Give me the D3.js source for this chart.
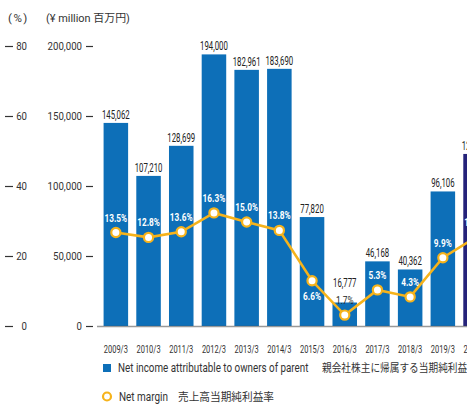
<!DOCTYPE html>
<html>
<head>
<meta charset="utf-8">
<script src="https://cdn.jsdelivr.net/npm/d3@7"></script>
<style>
  body { margin: 0; background: #fff; }
  svg { display: block; }
  text { font-family: Roboto, "Noto Sans CJK JP", sans-serif; fill: #333; }
</style>
</head>
<body>
<svg id="chart"></svg>
<script>
// data
const years = ["2009/3", "2010/3", "2011/3", "2012/3", "2013/3", "2014/3", "2015/3", "2016/3", "2017/3", "2018/3", "2019/3", "2020/3"];
const netIncome = [145062, 107210, 128699, 194000, 182961, 183690, 77820, 16777, 46168, 40362, 96106, 122900];
const netMargin = [13.5, 12.8, 13.6, 16.3, 15.0, 13.8, 6.6, 1.7, 5.3, 4.3, 9.9, 12.8];
const yenTicks = [0, 50000, 100000, 150000, 200000];
const pctTicks = [0, 20, 40, 60, 80];

const width = 467;
const height = 406;

const blue = "#0d6fb8";
const navy = "#25237a";
const gold = "#f6b31b";

// the original uses a condensed face, so squash the text horizontally
function squeeze(sel, sx) {
    sel.each(function () {
        const t = d3.select(this);
        const tx = +t.attr("x") || 0;
        const ty = +t.attr("y") || 0;
        t.attr("x", 0).attr("y", 0)
            .attr("transform", "translate(" + tx + "," + ty + ") scale(" + sx + ",1)");
    });
}

const svg = d3.select("#chart")
    .attr("width", width)
    .attr("height", height);

// scales
const x = d3.scaleBand()
    .domain(years)
    .range([99.5, 99.5 + 32.7 * years.length])
    .paddingInner(0.25)
    .paddingOuter(0.125);

const y = d3.scaleLinear()
    .domain([0, 200000])
    .range([326, 46]);

// percent axis labels go to 80, the markers are drawn at twice that scale
const yPctAxis = d3.scaleLinear().domain([0, 80]).range([326, 46]);
const yPct = d3.scaleLinear().domain([0, 40]).range([327, 47]);

// unit headers
svg.append("text").attr("x", 8).attr("y", 22)
    .style("font-size", "11.5px").style("letter-spacing", "1.5px").text("(%)");
svg.append("text").attr("x", 46).attr("y", 22)
    .style("font-size", "11.5px").text("(¥ million 百万円)")
    .call(squeeze, 0.95);

// left axes
const pctAxis = svg.append("g")
    .attr("transform", "translate(5,0)")
    .call(d3.axisRight(yPctAxis).tickValues(pctTicks).tickSize(8).tickPadding(3));
pctAxis.select(".domain").remove();
pctAxis.selectAll("line").attr("stroke", "#333").attr("stroke-width", 1.2);
pctAxis.selectAll("text")
    .attr("text-anchor", "end")
    .attr("x", 22)
    .attr("fill", null)
    .style("font-size", "10.5px")
    .style("font-family", null)
    .call(squeeze, 0.92);

const yenAxis = svg.append("g")
    .attr("transform", "translate(93,0)")
    .call(d3.axisLeft(y).tickValues(yenTicks).tickSize(7).tickPadding(4).tickFormat(d3.format(",")));
yenAxis.select(".domain").remove();
yenAxis.selectAll("line").attr("stroke", "#333").attr("stroke-width", 1.2);
yenAxis.selectAll("text")
    .attr("fill", null)
    .style("font-size", "10.5px")
    .style("font-family", null)
    .call(squeeze, 0.92);

// bars
svg.append("g")
    .selectAll("rect")
    .data(netIncome)
    .join("rect")
    .attr("x", (d, i) => x(years[i]))
    .attr("width", x.bandwidth())
    .attr("y", d => y(d))
    .attr("height", d => y(0) - y(d))
    .attr("fill", (d, i) => i === years.length - 1 ? navy : blue);

// baseline
svg.append("line")
    .attr("x1", 97).attr("x2", width)
    .attr("y1", y(0) + 0.5).attr("y2", y(0) + 0.5)
    .attr("stroke", "#555")
    .attr("stroke-opacity", 0.6)
    .attr("stroke-width", 1.6);

// bar value labels (2016/3 sits higher to leave room for its margin label)
svg.append("g")
    .selectAll("text")
    .data(netIncome)
    .join("text")
    .attr("x", (d, i) => x(years[i]) + x.bandwidth() / 2)
    .attr("y", (d, i) => years[i] === "2016/3" ? y(d) - 16 : y(d) - 4)
    .attr("text-anchor", "middle")
    .style("font-size", "12px")
    .style("fill", "#222")
    .text(d => d3.format(",")(d))
    .call(squeeze, 0.65);

// net margin line
const line = d3.line()
    .x((d, i) => x(years[i]) + x.bandwidth() / 2)
    .y(d => yPct(d));

svg.append("path")
    .datum(netMargin)
    .attr("d", line)
    .attr("fill", "none")
    .attr("stroke", gold)
    .attr("stroke-width", 2.6);

svg.append("g")
    .selectAll("circle")
    .data(netMargin)
    .join("circle")
    .attr("cx", (d, i) => x(years[i]) + x.bandwidth() / 2)
    .attr("cy", d => yPct(d))
    .attr("r", 4.6)
    .attr("fill", "#fff")
    .attr("stroke", gold)
    .attr("stroke-width", 2.2);

// margin labels
svg.append("g")
    .selectAll("text")
    .data(netMargin)
    .join("text")
    .attr("x", (d, i) => x(years[i]) + x.bandwidth() / 2)
    .attr("y", (d, i) => years[i] === "2015/3" ? yPct(d) + 19 : yPct(d) - 11)
    .attr("text-anchor", "middle")
    .style("font-size", "11.5px")
    .style("fill", (d, i) => years[i] === "2016/3" ? "#222" : "#fff")
    .style("font-weight", (d, i) => years[i] === "2016/3" ? "normal" : "bold")
    .text(d => d.toFixed(1) + "%")
    .call(squeeze, 0.72);

// category labels
svg.append("g")
    .selectAll("text")
    .data(years)
    .join("text")
    .attr("x", d => x(d) + x.bandwidth() / 2)
    .attr("y", 353)
    .attr("text-anchor", "middle")
    .style("font-size", "11px")
    .text(d => d)
    .call(squeeze, 0.68);

// legend
const legend = svg.append("g");
legend.append("rect")
    .attr("x", 103).attr("y", 364).attr("width", 8).attr("height", 8)
    .attr("fill", blue);
legend.append("text")
    .attr("x", 118).attr("y", 372)
    .style("font-size", "12px")
    .text("Net income attributable to owners of parent")
    .call(squeeze, 0.82);
legend.append("text")
    .attr("x", 322).attr("y", 372)
    .style("font-size", "11px")
    .text("親会社株主に帰属する当期純利益")
    .call(squeeze, 0.88);
legend.append("circle")
    .attr("cx", 107).attr("cy", 396.5).attr("r", 4)
    .attr("fill", "#fff")
    .attr("stroke", gold)
    .attr("stroke-width", 2.2);
legend.append("text")
    .attr("x", 119).attr("y", 401)
    .style("font-size", "12px")
    .text("Net margin")
    .call(squeeze, 0.83);
legend.append("text")
    .attr("x", 178).attr("y", 401)
    .style("font-size", "11px")
    .text("売上高当期純利益率")
    .call(squeeze, 0.97);
</script>
</body>
</html>
